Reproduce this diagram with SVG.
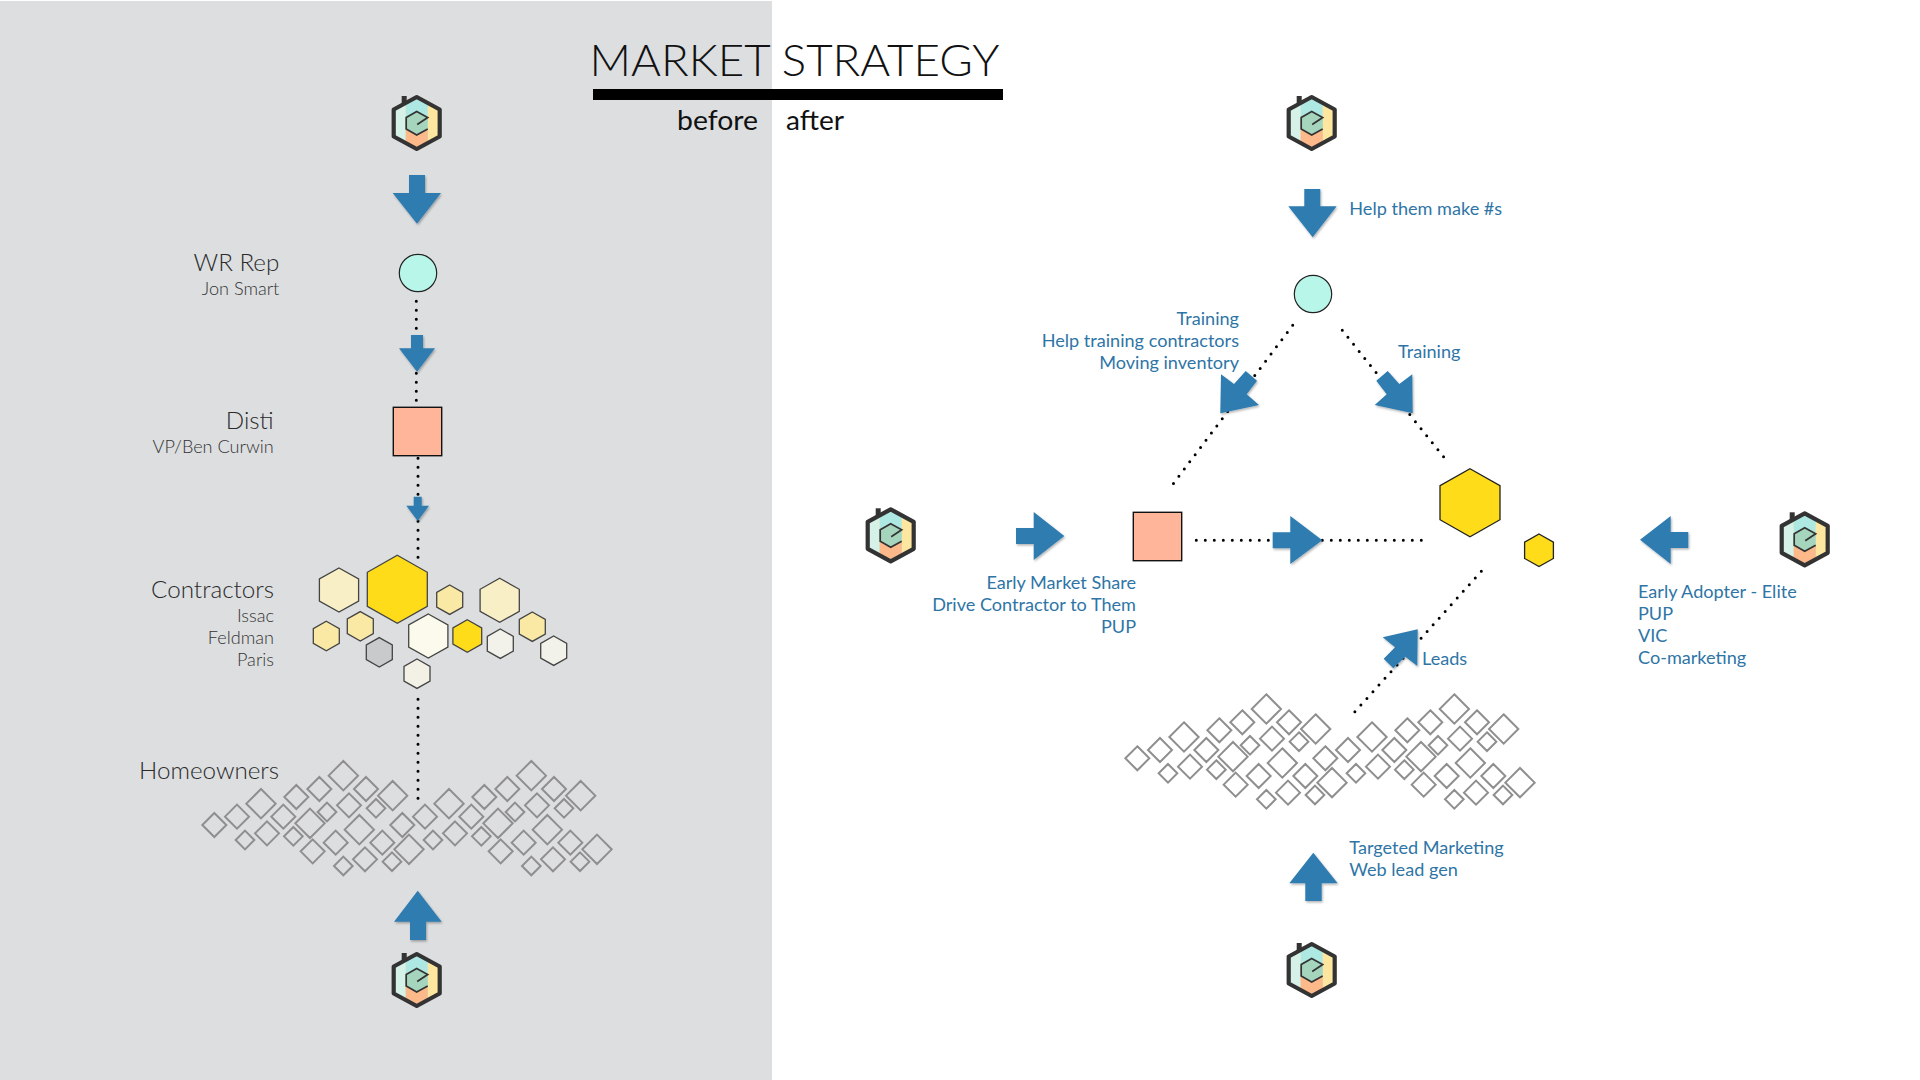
<svg xmlns="http://www.w3.org/2000/svg" xmlns:xlink="http://www.w3.org/1999/xlink" width="1920" height="1080" viewBox="0 0 1920 1080">
<style>
text{font-family:"Lato","Liberation Sans",sans-serif}
.head{font-weight:300;font-size:24.2px;fill:#2a2a2a}
.sub{font-weight:300;font-size:18.1px;fill:#333}
.end{text-anchor:end}
.blue{font-weight:400;font-size:18.1px;fill:#2e75a6}
.title{font-weight:300;font-size:43px;fill:#111}
.tag{font-weight:400;font-size:27px;fill:#111}
.dots{fill:none;stroke:#000;stroke-width:3;stroke-linecap:round;stroke-dasharray:0 9}
.arrow{fill:#2f7cb0;filter:url(#sh)}
.hex{stroke:#444;stroke-width:1.3}
.hexd{stroke:#222;stroke-width:1.3}
.dia{fill:none;stroke:#8f8f8f;stroke-width:6}
</style>
<defs>
<filter id="sh" x="-20%" y="-20%" width="150%" height="150%"><feDropShadow dx="1" dy="1.5" stdDeviation="1" flood-color="#000" flood-opacity="0.3"/></filter>
<polygon id="hx34" points="0,-34 30,-17 30,17 0,34 -30,17 -30,-17"/>
<polygon id="hx22" points="0,-22 19.6,-11 19.6,11 0,22 -19.6,11 -19.6,-11"/>
<polygon id="hx16" points="0,-16.3 14.4,-8.15 14.4,8.15 0,16.3 -14.4,8.15 -14.4,-8.15"/>
<polygon id="hx15" points="0,-14.7 13,-7.35 13,7.35 0,14.7 -13,7.35 -13,-7.35"/>
<clipPath id="logoClip"><polygon points="0,-26 23,-13.5 23,13.5 0,26 -23,13.5 -23,-13.5"/></clipPath>
<g id="logo">
<rect x="-15" y="-27" width="5" height="8" fill="#333"/>
<g clip-path="url(#logoClip)">
<rect x="-24" y="-27" width="48" height="54" fill="#fde6a0"/>
<rect x="-24" y="-27" width="13" height="54" fill="#d6f1e8"/>
<rect x="-11" y="-27" width="22" height="54" fill="#aee8e2"/>
<polygon points="-11,5 0,12 11,5 11,27 -11,27" fill="#fdb98a"/>
<polygon points="-11,-6 0,-11 11,-6 11,6 0,12 -11,6" fill="#a6d5bd"/>
</g>
<polygon points="0,-26 23,-13.5 23,13.5 0,26 -23,13.5 -23,-13.5" fill="none" stroke="#333" stroke-width="4.2" stroke-linejoin="round"/>
<path d="M0.5,1.5 L11,-5.5 L0,-11.5 L-10.5,-5.5 L-10.5,6 L0,12 L11,6" fill="none" stroke="#333" stroke-width="1.7"/>
</g>
<g id="tile" class="dia" transform="scale(.33333)">
<path d="M253 219l36 36-36 36-36-36zM321 194l36 36-36 36-36-36zM393 147l44 44-44 44-44-44zM345 272l28 28-28 28-28-28zM411 244l36 36-36 36-36-36zM460 194l36 36-36 36-36-36zM490 261l28 28-28 28-28-28zM499 135l36 36-36 36-36-36zM568 111l36 36-36 36-36-36zM640 63l44 44-44 44-44-44zM708 111l36 36-36 36-36-36zM788 123l44 44-44 44-44-44zM738 177l28 28-28 28-28-28zM657 160l36 36-36 36-36-36zM591 188l28 28-28 28-28-28zM540 206l44 44-44 44-44-44zM617 272l36 36-36 36-36-36zM548 298l36 36-36 36-36-36zM688 225l44 44-44 44-44-44zM757 272l36 36-36 36-36-36zM837 284l44 44-44 44-44-44zM786 337l28 28-28 28-28-28zM705 322l36 36-36 36-36-36zM640 350l28 28-28 28-28-28z"/>
</g>
</defs>
<rect id="before-panel" x="0" y="1" width="772" height="1079" fill="#dcdee0"/>
<g id="heading">
<text class="title" x="589.5" y="76" textLength="410" lengthAdjust="spacingAndGlyphs">MARKET STRATEGY</text>
<rect x="593" y="89" width="410" height="11" fill="#000"/>
<text class="tag" x="677" y="130" textLength="81" lengthAdjust="spacingAndGlyphs">before</text>
<text class="tag" x="786" y="130" textLength="58" lengthAdjust="spacingAndGlyphs">after</text>
</g>
<g id="connectors">
<path class="dots" d="M416.3 301.3V402"/>
<path class="dots" d="M418 458.3V558"/>
<path class="dots" d="M418 699.3V799"/>
<path class="dots" d="M1292.7 325.3L1173.3 483.6"/>
<path class="dots" d="M1342.3 330.3L1443.9 457.2"/>
<path class="dots" d="M1196.3 540.3H1423"/>
<path class="dots" d="M1481.3 571.3L1354.5 712.2"/>
<polygon class="arrow" points="409,175 425,175 425,193 441,193 417,223.7 392.7,193 409,193"/>
<polygon class="arrow" points="411,335 423,335 423,348.3 435,348.3 417,371.7 399,348.3 411,348.3"/>
<polygon class="arrow" points="413.7,496.7 421.7,496.7 421.7,505.7 429,505.7 417.7,521 406.3,505.7 413.7,505.7"/>
<polygon class="arrow" points="417.7,890.7 441.7,921.7 426,921.7 426,940 410,940 410,921.7 394,921.7"/>
<polygon class="arrow" points="1304.3,189 1320.3,189 1320.3,206.3 1336.7,206.3 1312.7,237.3 1288.3,206.3 1304.3,206.3"/>
<polygon class="arrow" points="1221,374.3 1234,384 1245.7,371 1257,380.7 1246.7,394.3 1259,405 1220.3,413.3"/>
<polygon class="arrow" points="1412.3,374.3 1399.3,384 1387.7,371 1376.3,380.7 1386.7,394.3 1374.7,405 1412.7,413.3"/>
<polygon class="arrow" points="1016,528 1033.7,528 1033.7,512 1064.3,536 1033.7,560 1033.7,544 1016,544"/>
<polygon class="arrow" points="1272.7,532.3 1290.3,532.3 1290.3,516 1322.3,540.3 1290.3,564 1290.3,548.3 1272.7,548.3"/>
<polygon class="arrow" points="1640,539.7 1670.7,516 1670.7,532 1688.3,532 1688.3,548 1670.7,548 1670.7,564"/>
<polygon class="arrow" points="1382.7,637.3 1417.7,629.3 1417.3,666 1405.3,656.7 1393.3,668.3 1383.7,658.7 1395,647.3"/>
<polygon class="arrow" points="1313.3,852.7 1337.7,883.3 1321.7,883.3 1321.7,901 1305.3,901 1305.3,883.3 1289.3,883.3"/>
</g>
<g id="logo-before-top"><use href="#logo" x="416.7" y="123"/></g>
<g id="logo-before-bottom"><use href="#logo" x="416.7" y="980"/></g>
<g id="logo-after-top"><use href="#logo" x="1311.7" y="123"/></g>
<g id="logo-after-left"><use href="#logo" x="890.7" y="535.3"/></g>
<g id="logo-after-right"><use href="#logo" x="1804.7" y="539.3"/></g>
<g id="logo-after-bottom"><use href="#logo" x="1311.7" y="970"/></g>
<g id="wr-rep">
<circle cx="418" cy="273" r="18.7" fill="#b8f6ea" stroke="#222" stroke-width="1.2"/>
<text class="head end" x="279.3" y="271.3">WR Rep</text>
<text class="sub end" x="279.3" y="294.7">Jon Smart</text>
</g>
<g id="disti">
<rect x="393.3" y="407.3" width="48.4" height="48.4" fill="#ffb599" stroke="#111" stroke-width="1.4"/>
<text class="head end" x="273.7" y="429.3">Disti</text>
<text class="sub end" x="273.7" y="452.7">VP/Ben Curwin</text>
</g>
<g id="contractors">
<text class="head end" x="274" y="598">Contractors</text>
<text class="sub end" x="274" y="622">Issac</text>
<text class="sub end" x="274" y="644">Feldman</text>
<text class="sub end" x="274" y="665.5">Paris</text>
<g class="hex">
<use href="#hx22" x="339" y="590" fill="#f8efc6"/>
<use href="#hx34" x="397.3" y="589.3" fill="#ffdc1a"/>
<use href="#hx15" x="449.7" y="599.7" fill="#f9e9a5"/>
<use href="#hx22" x="499.7" y="600.3" fill="#f8efc6"/>
<use href="#hx15" x="360.3" y="626.3" fill="#f9e9a5"/>
<use href="#hx15" x="326.3" y="636" fill="#f9e9a5"/>
<use href="#hx22" x="428.3" y="636" fill="#fbfaec"/>
<use href="#hx16" x="467.3" y="636" fill="#ffdc1a"/>
<use href="#hx15" x="500.3" y="643.7" fill="#f2f1ea"/>
<use href="#hx15" x="532.3" y="626.7" fill="#f9e9a5"/>
<use href="#hx15" x="553.7" y="650.7" fill="#f2f1ea"/>
<use href="#hx15" x="379.3" y="652.3" fill="#c9cacc"/>
<use href="#hx15" x="417" y="673.7" fill="#f3f0e6"/>
</g>
</g>
<g id="homeowners">
<text class="head end" x="279" y="779">Homeowners</text>
<use href="#tile" transform="translate(130 740)"/>
<use href="#tile" transform="translate(318 740)"/>
</g>
<g id="wr-rep-after"><circle cx="1313" cy="294" r="18.7" fill="#b8f6ea" stroke="#222" stroke-width="1.2"/></g>
<g id="disti-after"><rect x="1133.3" y="512.3" width="48.4" height="48.4" fill="#ffb599" stroke="#111" stroke-width="1.4"/></g>
<g id="contractors-after" class="hexd">
<use href="#hx34" x="1470" y="502.7" fill="#ffdc1a"/>
<use href="#hx16" x="1539" y="550.3" fill="#ffdc1a"/>
</g>
<g id="homeowners-after">
<use href="#tile" transform="translate(1053 673.3)"/>
<use href="#tile" transform="translate(1241 673.3)"/>
</g>
<g id="labels-after">
<text class="blue" x="1349.3" y="214.7">Help them make #s</text>
<text class="blue end" x="1239" y="325.3">Training</text>
<text class="blue end" x="1239" y="347.3">Help training contractors</text>
<text class="blue end" x="1239" y="369.3">Moving inventory</text>
<text class="blue" x="1398" y="358.3">Training</text>
<text class="blue end" x="1136" y="588.7">Early Market Share</text>
<text class="blue end" x="1136" y="610.7">Drive Contractor to Them</text>
<text class="blue end" x="1136" y="632.7">PUP</text>
<text class="blue" x="1638" y="597.7">Early Adopter - Elite</text>
<text class="blue" x="1638" y="619.7">PUP</text>
<text class="blue" x="1638" y="641.7">VIC</text>
<text class="blue" x="1638" y="663.7">Co-marketing</text>
<text class="blue" x="1422" y="665">Leads</text>
<text class="blue" x="1349.3" y="854">Targeted Marketing</text>
<text class="blue" x="1349.3" y="876">Web lead gen</text>
</g>
</svg>
